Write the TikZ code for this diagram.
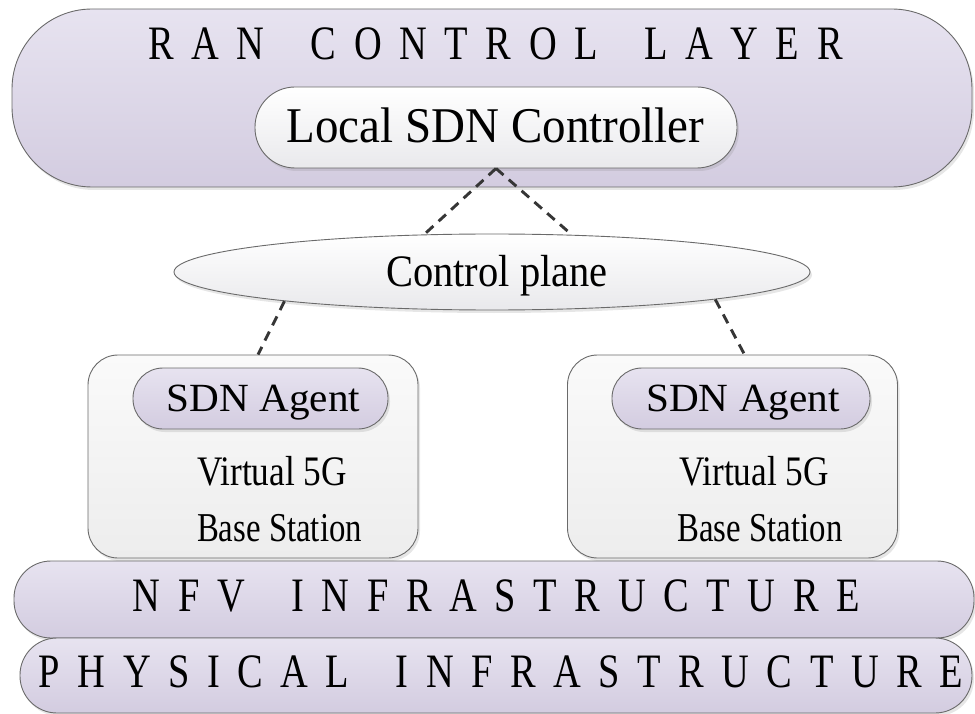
\documentclass[tikz,border=0pt]{standalone}
\usepackage{fontspec}
\setmainfont{Liberation Serif}
\usetikzlibrary{shapes.geometric,shadows}

\definecolor{layertop}{HTML}{E7E3F0}
\definecolor{layerbot}{HTML}{D3CCE0}
\definecolor{whitetop}{HTML}{FFFFFF}
\definecolor{whitebot}{HTML}{E9E9EC}
\definecolor{boxtop}{HTML}{FAFAFA}
\definecolor{boxbot}{HTML}{EDEDED}
\definecolor{edge}{HTML}{6A6A6A}
\definecolor{dashcol}{HTML}{363636}

% font size helper and horizontal squeeze helper
\newcommand{\fsz}[1]{\fontsize{#1}{#1}\selectfont}
\newcommand{\sqz}[2]{\scalebox{#1}[1]{#2}}
% letter gap and word gap for the spaced-out layer titles
\newcommand{\lgap}{\hfill}
\newcommand{\wgap}{\hfill\hskip14pt\hfill}
\newcommand{\spreadtitle}[3]{\scalebox{#1}[1]{\hbox to #2{#3}}}

\tikzset{
  shapebase/.style={draw=edge, line width=0.9pt, inner sep=0pt,
    drop shadow={opacity=0.2, shadow xshift=2pt, shadow yshift=-3pt}},
  layer/.style={shapebase, rectangle, top color=layertop, bottom color=layerbot},
  pillwhite/.style={shapebase, rectangle, top color=whitetop, bottom color=whitebot},
  stationbox/.style={shapebase, rectangle, rounded corners=30pt,
    top color=boxtop, bottom color=boxbot},
  txt/.style={inner sep=0pt, anchor=base},
  link/.style={draw=dashcol, line width=2.9pt, dash pattern=on 10pt off 7pt}
}

\begin{document}
\begin{tikzpicture}[x=1pt, y=-1pt]
\useasboundingbox (0,0) rectangle (975,714);

% RAN control layer
\node[layer, rounded corners=80pt, minimum width=960pt, minimum height=178pt] (ran) at (492,98) {};
\node[txt] (rantitle) at (495.5,60) {\fsz{48}\spreadtitle{0.8}{868pt}{R\lgap A\lgap N\wgap C\lgap O\lgap N\lgap T\lgap R\lgap O\lgap L\wgap L\lgap A\lgap Y\lgap E\lgap R}};

% local controller
\node[pillwhite, rounded corners=40pt, minimum width=482pt, minimum height=81pt] (ctrl) at (496,127.5) {};
\node[txt] (ctrltext) at (495.5,142.5) {\fsz{50}\sqz{0.94}{Local SDN Controller}};

% control plane
\node[shapebase, ellipse, top color=whitetop, bottom color=whitebot, minimum width=636pt, minimum height=76pt] (cp) at (492,272) {};
\node[txt] (cptext) at (497,287) {\fsz{45}\sqz{0.9}{Control plane}};

% base station boxes
\node[stationbox, minimum width=330pt, minimum height=203pt] (lbox) at (253,456.5) {};
\node[stationbox, minimum width=330pt, minimum height=203pt] (rbox) at (732.5,456.5) {};

% SDN agents
\node[layer, rounded corners=30pt, minimum width=255pt, minimum height=61pt] (lagent) at (260.5,398.5) {};
\node[layer, rounded corners=30pt, minimum width=258pt, minimum height=61pt] (ragent) at (741,398.5) {};
\node[txt] (lagenttext) at (263.5,411) {\fsz{40}\sqz{1.03}{SDN Agent}};
\node[txt] (ragenttext) at (743,411) {\fsz{40}\sqz{1.03}{SDN Agent}};

% station labels
\node[txt] (lvirt) at (272,485) {\fsz{42}\sqz{0.84}{Virtual 5G}};
\node[txt] (lbase) at (279.5,541) {\fsz{41}\sqz{0.8}{Base Station}};
\node[txt] (rvirt) at (754,485) {\fsz{42}\sqz{0.84}{Virtual 5G}};
\node[txt] (rbase) at (760,541) {\fsz{41}\sqz{0.8}{Base Station}};

% infrastructure layers
\node[layer, rounded corners=37pt, minimum width=960pt, minimum height=77pt] (nfv) at (494,599.5) {};
\node[txt] (nfvtitle) at (496.5,611) {\fsz{48}\spreadtitle{0.8}{909pt}{N\lgap F\lgap V\wgap I\lgap N\lgap F\lgap R\lgap A\lgap S\lgap T\lgap R\lgap U\lgap C\lgap T\lgap U\lgap R\lgap E}};
\node[layer, rounded corners=37pt, minimum width=952pt, minimum height=75pt] (phy) at (496,675.5) {};
\node[txt] (phytitle) at (501,687) {\fsz{48}\spreadtitle{0.8}{1155pt}{P\lgap H\lgap Y\lgap S\lgap I\lgap C\lgap A\lgap L\wgap I\lgap N\lgap F\lgap R\lgap A\lgap S\lgap T\lgap R\lgap U\lgap C\lgap T\lgap U\lgap R\lgap E}};

% control links
\draw[link] (ctrl.south) -- (cp.151);
\draw[link] (ctrl.south) -- (cp.25);
\draw[link] (cp.188) -- ([xshift=5pt]lbox.north);
\draw[link] (cp.-7) -- ([xshift=12pt]rbox.north);
\end{tikzpicture}
\end{document}
